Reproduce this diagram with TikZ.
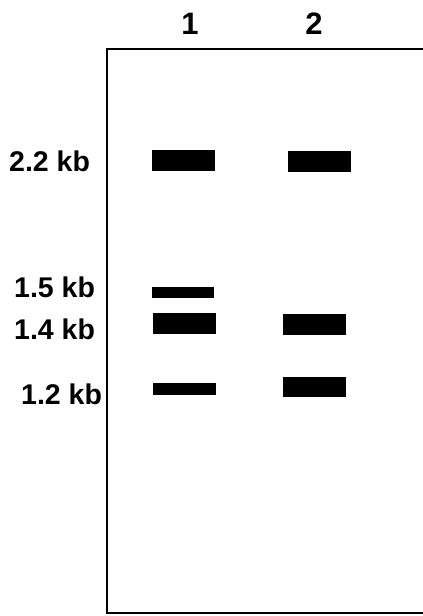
\documentclass[tikz,border=0pt]{standalone}
\usepackage{fontspec}
\setmainfont{Liberation Sans}
\begin{document}
\begin{tikzpicture}[x=1pt,y=-1pt,
  gelline/.style={line width=2pt,black},
  band/.style={fill=black,draw=none},
  sizelabel/.style={anchor=west,inner sep=0pt,font=\fontsize{28.5}{31}\selectfont\bfseries},
  lanelabel/.style={anchor=center,inner sep=0pt,font=\fontsize{31}{34}\selectfont\bfseries}]
\useasboundingbox (0,0) rectangle (423,616);
% gel outline (open on the right)
\coordinate (tl) at (107,49);
\coordinate (tr) at (424,49);
\coordinate (bl) at (107,613);
\coordinate (br) at (424,613);
\draw[gelline] (tr) -- (tl) -- (bl) -- (br);
% lane numbers
\node[lanelabel] (lane1) at (190,24) {1};
\node[lanelabel] (lane2) at (314,24) {2};
% size markers
\node[sizelabel] (m22) at (9,161) {2.2 kb};
\node[sizelabel] (m15) at (14,287) {1.5 kb};
\node[sizelabel] (m14) at (14,329) {1.4 kb};
\node[sizelabel] (m12) at (21,394) {1.2 kb};
% lane 1 bands
\fill[band] (152,150) rectangle (215,171);
\fill[band] (152,287) rectangle (214,298);
\fill[band] (153,313) rectangle (216,334);
\fill[band] (153,383) rectangle (216,395);
% lane 2 bands
\fill[band] (288,151) rectangle (351,172);
\fill[band] (283,314) rectangle (346,335);
\fill[band] (283,377) rectangle (346,397);
\end{tikzpicture}
\end{document}
